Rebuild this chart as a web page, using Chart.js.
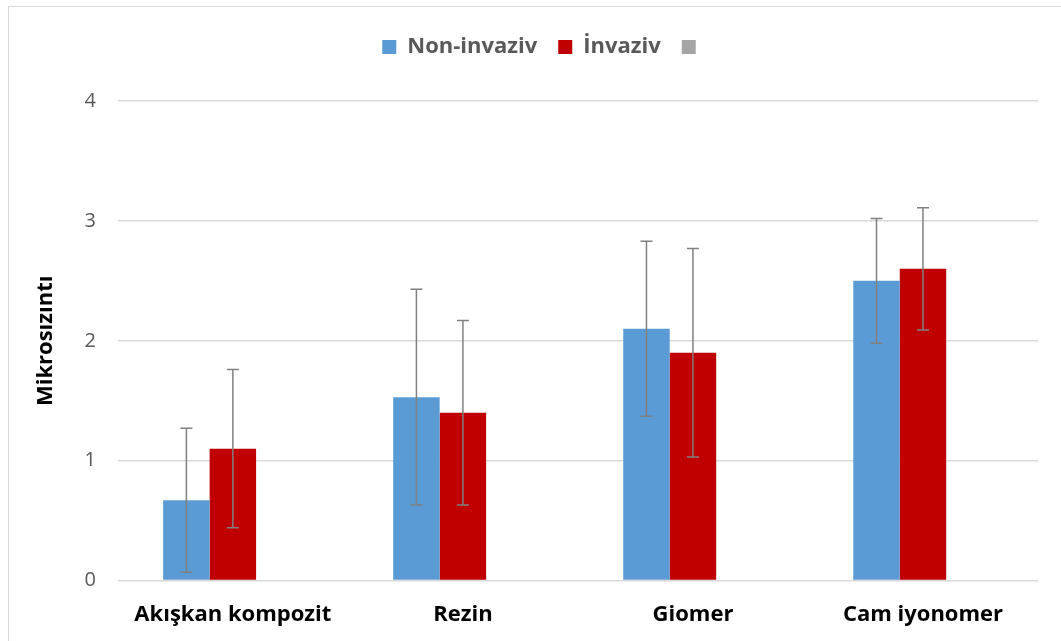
<!DOCTYPE html>
<html>
<head>
<meta charset="utf-8">
<script src="https://cdn.jsdelivr.net/npm/chart.js@4.4.1/dist/chart.umd.min.js"></script>
<style>
    html, body { margin: 0; padding: 0; background: #fff; }
    #wrap { position: relative; width: 1061px; height: 641px; overflow: hidden; }
    #frame { position: absolute; left: 8px; top: 6px; width: 1100px; height: 700px; border: 1px solid #d9d9d9; box-sizing: border-box; }
    canvas { position: absolute; left: 0; top: 0; }
</style>
</head>
<body>
<div id="wrap">
    <div id="frame"></div>
    <canvas id="leakChart" width="1061" height="641"></canvas>
</div>
<script>
// Chart data
const categories = ['Akışkan kompozit', 'Rezin', 'Giomer', 'Cam iyonomer'];
const nonInvaziv = [0.67, 1.53, 2.10, 2.50];
const invaziv = [1.10, 1.40, 1.90, 2.60];
const nonInvazivErr = [0.60, 0.90, 0.73, 0.52];
const invazivErr = [0.66, 0.77, 0.87, 0.51];
const emptySeries = [null, null, null, null];
const yTicks = [0, 1, 2, 3, 4];

const errorsByDataset = [nonInvazivErr, invazivErr, null];

const FONT = '"Open Sans", sans-serif';

// Draw +/- error bars on top of the bars
const errorBars = {
    id: 'errorBars',
    afterDatasetsDraw(chart) {
        const ctx = chart.ctx;
        const yScale = chart.scales.y;
        ctx.save();
        ctx.strokeStyle = '#808080';
        ctx.lineWidth = 1.5;
        chart.data.datasets.forEach((ds, di) => {
            const errs = errorsByDataset[di];
            if (!errs) return;
            const meta = chart.getDatasetMeta(di);
            meta.data.forEach((bar, i) => {
                const v = ds.data[i];
                if (v == null) return;
                const x = bar.x;
                const yTop = yScale.getPixelForValue(v + errs[i]);
                const yBot = yScale.getPixelForValue(v - errs[i]);
                ctx.beginPath();
                ctx.moveTo(x, yTop);
                ctx.lineTo(x, yBot);
                ctx.moveTo(x - 6, yTop);
                ctx.lineTo(x + 6, yTop);
                ctx.moveTo(x - 6, yBot);
                ctx.lineTo(x + 6, yBot);
                ctx.stroke();
            });
        });
        ctx.restore();
    }
};

// Extra room under the legend, and nudge it a bit to the right
const legendGap = {
    id: 'legendGap',
    beforeLayout(chart) {
        const legend = chart.legend;
        if (legend && !legend._gapPatched) {
            const fit = legend.fit;
            legend.fit = function () {
                fit.call(this);
                this.height += 33;
            };
            legend._gapPatched = true;
        }
    },
    afterLayout(chart) {
        const legend = chart.legend;
        if (legend) {
            legend.left += 9;
            legend.right += 9;
        }
    }
};

const ctx = document.getElementById('leakChart').getContext('2d');
new Chart(ctx, {
    type: 'bar',
    data: {
        labels: categories,
        datasets: [
            { label: 'Non-invaziv', data: nonInvaziv, backgroundColor: '#5b9bd5' },
            { label: 'İnvaziv', data: invaziv, backgroundColor: '#c00000' },
            { label: '', data: emptySeries, backgroundColor: '#a5a5a5' }
        ]
    },
    options: {
        responsive: false,
        animation: false,
        devicePixelRatio: 1,
        layout: { padding: { top: 15, left: 33, right: 23, bottom: 0 } },
        datasets: {
            bar: { categoryPercentage: 0.606, barPercentage: 1.0 }
        },
        plugins: {
            tooltip: { enabled: false },
            legend: {
                position: 'top',
                labels: {
                    boxWidth: 14,
                    boxHeight: 14,
                    padding: 21,
                    color: '#595959',
                    font: { family: FONT, size: 22, weight: 'bold' }
                }
            }
        },
        scales: {
            x: {
                grid: { display: false },
                border: { display: false },
                ticks: {
                    color: '#000',
                    padding: 13,
                    font: { family: FONT, size: 22, weight: 'bold' }
                }
            },
            y: {
                min: 0,
                max: 4,
                afterBuildTicks(axis) {
                    axis.ticks = yTicks.map(v => ({ value: v }));
                },
                grid: { color: '#d9d9d9', lineWidth: 1.5, drawTicks: false },
                border: { display: false },
                ticks: {
                    color: '#595959',
                    padding: 22,
                    font: { family: FONT, size: 20 }
                },
                title: {
                    display: true,
                    text: 'Mikrosızıntı',
                    color: '#000',
                    padding: { top: 0, bottom: 3 },
                    font: { family: FONT, size: 22, weight: 'bold' }
                }
            }
        }
    },
    plugins: [errorBars, legendGap]
});
</script>
</body>
</html>
